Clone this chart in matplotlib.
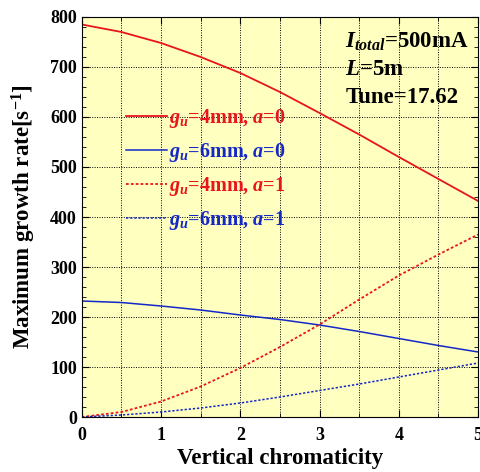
import numpy as np
import matplotlib.pyplot as plt
from matplotlib.ticker import MultipleLocator

plt.rcParams['font.family'] = 'Liberation Serif'
plt.rcParams['font.weight'] = 'bold'
plt.rcParams['mathtext.fontset'] = 'custom'
plt.rcParams['mathtext.it'] = 'Liberation Serif:italic:bold'
plt.rcParams['mathtext.rm'] = 'Liberation Serif:bold'

# vertical chromaticity
chrom = [0, 0.5, 1, 1.5, 2, 2.5, 3, 3.5, 4, 4.5, 5]
# growth rates
g4_a0 = [785, 770, 748, 720, 688, 650, 608, 565, 520, 476, 432]
g6_a0 = [232, 229, 222, 214, 204, 195, 184, 171, 157, 143, 130]
g4_a1 = [0, 10, 31, 61, 98, 140, 185, 235, 283, 325, 365]
g6_a1 = [0, 4, 10, 18, 28, 40, 53, 66, 80, 94, 108]

fig = plt.figure(figsize=(4.81, 4.72), dpi=100)
ax = fig.add_axes([0.170, 0.1165, 0.824, 0.8475])
ax.set_facecolor('#ffffc0')

ax.plot(chrom, g4_a0, color='#e8141e', lw=1.3, label=r'$g_u$=4mm, $a$=0')
ax.plot(chrom, g6_a0, color='#1428c8', lw=1.1, label=r'$g_u$=6mm, $a$=0')
ax.plot(chrom, g4_a1, color='#e8141e', lw=1.3, ls=(0, (1.5, 1.2)), label=r'$g_u$=4mm, $a$=1')
ax.plot(chrom, g6_a1, color='#1428c8', lw=1.1, ls=(0, (1.5, 1.2)), label=r'$g_u$=6mm, $a$=1')

ax.set_xlim(0, 5)
ax.set_ylim(0, 800)
ax.xaxis.set_major_locator(MultipleLocator(1))
ax.xaxis.set_minor_locator(MultipleLocator(0.5))
ax.yaxis.set_major_locator(MultipleLocator(100))
ax.yaxis.set_minor_locator(MultipleLocator(20))
ax.tick_params(which='both', direction='in', top=True, right=True, labelsize=13)
ax.tick_params(which='major', length=5)
ax.tick_params(axis='x', which='major', pad=7)
ax.tick_params(which='minor', length=3)
ax.grid(True, which='major', color='black', ls=(0, (1, 1.5)), lw=0.7)
ax.grid(True, which='minor', axis='x', color='black', ls=(0, (1, 1.5)), lw=0.7)

ax.set_xlabel('Vertical chromaticity', fontsize=16.5, fontweight='bold', labelpad=3)
ax.set_ylabel('Maximum growth rate[s$^{-1}$]', fontsize=16.5, fontweight='bold', labelpad=9)

leg = ax.legend(loc='upper left', bbox_to_anchor=(0.067, 0.82), frameon=False,
                fontsize=14.5, handlelength=2.0, handletextpad=0.1, labelspacing=0.55,
                labelcolor='linecolor')

ax.text(0.665, 0.965, r'$I_{total}$=500mA', transform=ax.transAxes, fontsize=16.5, va='top')
ax.text(0.665, 0.895, r'$L$=5m', transform=ax.transAxes, fontsize=16.5, va='top')
ax.text(0.665, 0.825, 'Tune=17.62', transform=ax.transAxes, fontsize=16.5, va='top')

fig.savefig('out.png', dpi=100)
